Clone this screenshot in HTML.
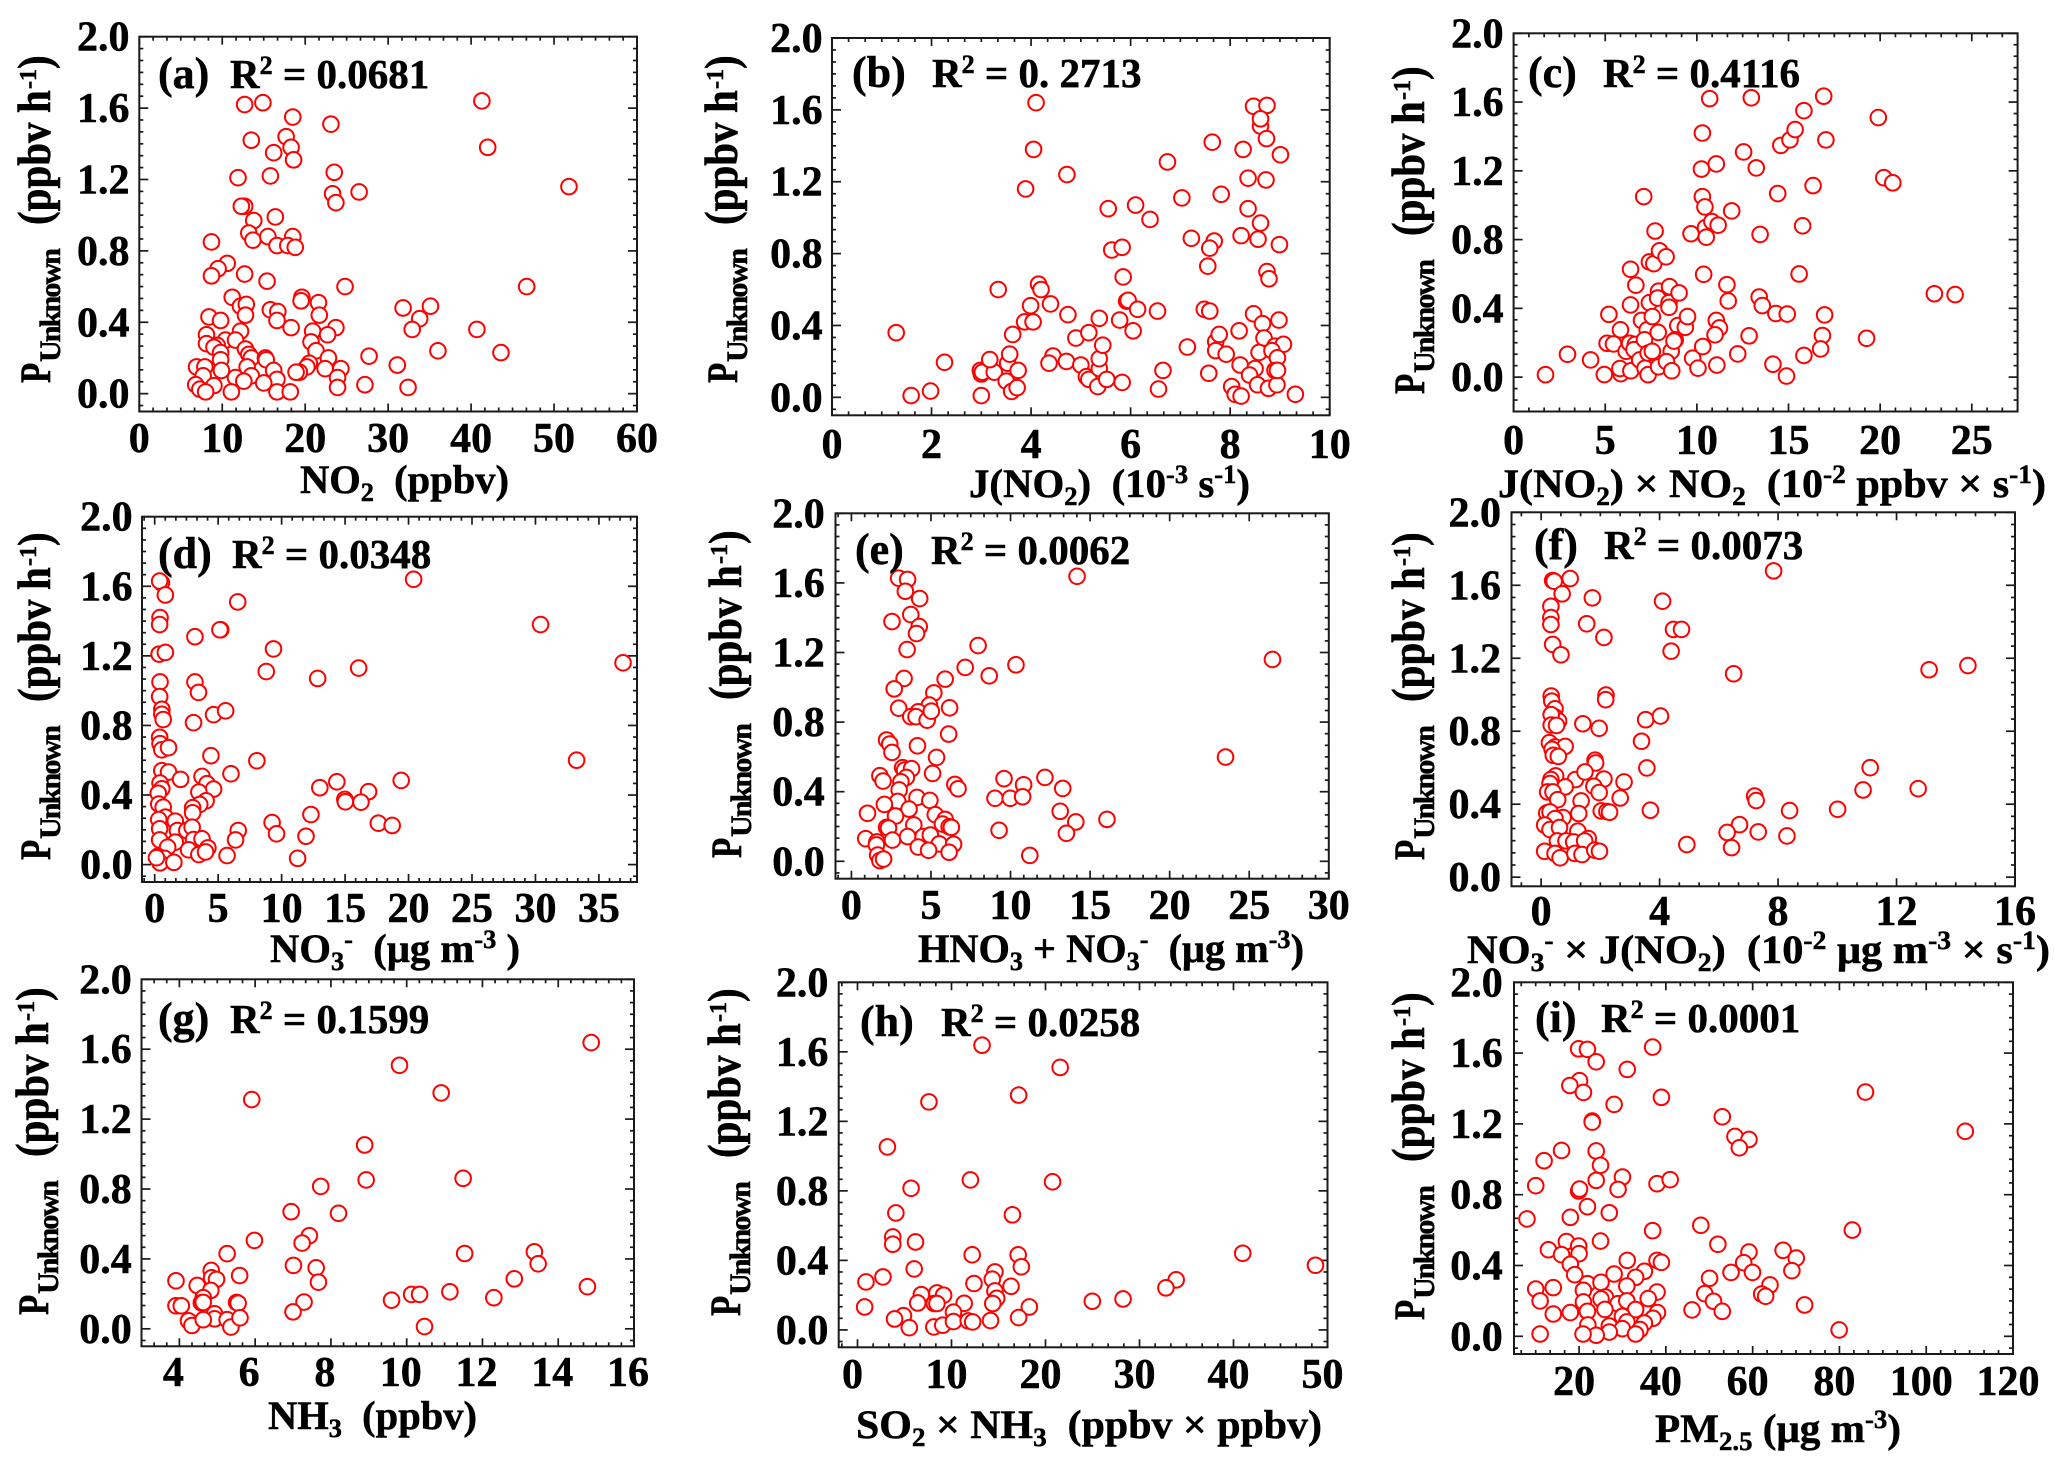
<!DOCTYPE html>
<html lang="en">
<head>
<meta charset="utf-8">
<title>Scatter panels of P-Unknown</title>
<style>
html,body{margin:0;padding:0;background:#fff;}
svg{display:block;}
text{font-family:"Liberation Serif","DejaVu Serif",serif;font-weight:bold;fill:#000;stroke:#000;stroke-width:0.5px;}
</style>
</head>
<body>
<svg id="figure" xmlns="http://www.w3.org/2000/svg" width="2067" height="1470" viewBox="0 0 2067 1470">
<rect width="2067" height="1470" fill="#fff"/>
<g id="plots"></g>

<g>
<text x="158" y="88" font-size="44">(a)</text>
<text x="230" y="88" font-size="41">R<tspan dy="-14" font-size="26">2</tspan><tspan dy="14"> = 0.0681</tspan></text>
<text x="300" y="493" font-size="40" textLength="209" lengthAdjust="spacingAndGlyphs">NO<tspan dy="8" font-size="26">2</tspan><tspan dy="-8">&#160;&#160;(ppbv)</tspan></text>
</g>
<g>
<text x="852" y="87" font-size="44">(b)</text>
<text x="932" y="87" font-size="41">R<tspan dy="-14" font-size="26">2</tspan><tspan dy="14"> = 0. 2713</tspan></text>
<text x="969" y="497" font-size="40" textLength="281" lengthAdjust="spacingAndGlyphs">J(NO<tspan dy="8" font-size="26">2</tspan><tspan dy="-8">)&#160;&#160;(10</tspan><tspan dy="-14" font-size="26">-3</tspan><tspan dy="14"> s</tspan><tspan dy="-14" font-size="26">-1</tspan><tspan dy="14">)</tspan></text>
</g>
<g>
<text x="1528" y="87" font-size="44">(c)</text>
<text x="1603" y="87" font-size="41">R<tspan dy="-14" font-size="26">2</tspan><tspan dy="14"> = 0.4116</tspan></text>
<text x="1498" y="497" font-size="40" textLength="548" lengthAdjust="spacingAndGlyphs">J(NO<tspan dy="8" font-size="26">2</tspan><tspan dy="-8">) × NO</tspan><tspan dy="8" font-size="26">2</tspan><tspan dy="-8">&#160;&#160;(10</tspan><tspan dy="-14" font-size="26">-2</tspan><tspan dy="14"> ppbv × s</tspan><tspan dy="-14" font-size="26">-1</tspan><tspan dy="14">)</tspan></text>
</g>
<g>
<text x="158" y="568" font-size="44">(d)</text>
<text x="232" y="568" font-size="41">R<tspan dy="-14" font-size="26">2</tspan><tspan dy="14"> = 0.0348</tspan></text>
<text x="270" y="962" font-size="40" textLength="250" lengthAdjust="spacingAndGlyphs">NO<tspan dy="8" font-size="26">3</tspan><tspan dy="-22" font-size="26">-</tspan><tspan dy="14">&#160;&#160;(μg m</tspan><tspan dy="-14" font-size="26">-3</tspan><tspan dy="14"> )</tspan></text>
</g>
<g>
<text x="855" y="564" font-size="44">(e)</text>
<text x="931" y="564" font-size="41">R<tspan dy="-14" font-size="26">2</tspan><tspan dy="14"> = 0.0062</tspan></text>
<text x="918" y="962" font-size="40" textLength="386" lengthAdjust="spacingAndGlyphs">HNO<tspan dy="8" font-size="26">3</tspan><tspan dy="-8"> + NO</tspan><tspan dy="8" font-size="26">3</tspan><tspan dy="-22" font-size="26">-</tspan><tspan dy="14">&#160;&#160;(μg m</tspan><tspan dy="-14" font-size="26">-3</tspan><tspan dy="14">)</tspan></text>
</g>
<g>
<text x="1534" y="559" font-size="44">(f)</text>
<text x="1604" y="559" font-size="41">R<tspan dy="-14" font-size="26">2</tspan><tspan dy="14"> = 0.0073</tspan></text>
<text x="1467" y="963" font-size="40" textLength="583" lengthAdjust="spacingAndGlyphs">NO<tspan dy="8" font-size="26">3</tspan><tspan dy="-22" font-size="26">-</tspan><tspan dy="14"> × J(NO</tspan><tspan dy="8" font-size="26">2</tspan><tspan dy="-8">)&#160;&#160;(10</tspan><tspan dy="-14" font-size="26">-2</tspan><tspan dy="14"> μg m</tspan><tspan dy="-14" font-size="26">-3</tspan><tspan dy="14"> × s</tspan><tspan dy="-14" font-size="26">-1</tspan><tspan dy="14">)</tspan></text>
</g>
<g>
<text x="158" y="1033" font-size="44">(g)</text>
<text x="230" y="1033" font-size="41">R<tspan dy="-14" font-size="26">2</tspan><tspan dy="14"> = 0.1599</tspan></text>
<text x="268" y="1429" font-size="40" textLength="209" lengthAdjust="spacingAndGlyphs">NH<tspan dy="8" font-size="26">3</tspan><tspan dy="-8">&#160;&#160;(ppbv)</tspan></text>
</g>
<g>
<text x="860" y="1036" font-size="44">(h)</text>
<text x="941" y="1036" font-size="41">R<tspan dy="-14" font-size="26">2</tspan><tspan dy="14"> = 0.0258</tspan></text>
<text x="856" y="1438" font-size="40" textLength="466" lengthAdjust="spacingAndGlyphs">SO<tspan dy="8" font-size="26">2</tspan><tspan dy="-8"> × NH</tspan><tspan dy="8" font-size="26">3</tspan><tspan dy="-8">&#160;&#160;(ppbv × ppbv)</tspan></text>
</g>
<g>
<text x="1535" y="1032" font-size="44">(i)</text>
<text x="1601" y="1032" font-size="41">R<tspan dy="-14" font-size="26">2</tspan><tspan dy="14"> = 0.0001</tspan></text>
<text x="1655" y="1442" font-size="40" textLength="246" lengthAdjust="spacingAndGlyphs">PM<tspan dy="8" font-size="26">2.5</tspan><tspan dy="-8"> (μg m</tspan><tspan dy="-14" font-size="26">-3</tspan><tspan dy="14">)</tspan></text>
</g>

<g transform="translate(50,383) rotate(-90)"><text transform="scale(0.77,1)" font-size="43">P</text><text x="21" y="10" font-size="30" textLength="114">Unknown</text><text transform="translate(158,0) scale(1,1.13)" font-size="41">(ppbv</text><text transform="translate(270,0) scale(1,1.13)" font-size="41">h</text><text transform="translate(294,-14)" font-size="24">-1</text><text transform="translate(314,0) scale(1,1.13)" font-size="41">)</text></g>
<g transform="translate(737,383) rotate(-90)"><text transform="scale(0.77,1)" font-size="43">P</text><text x="21" y="10" font-size="30" textLength="114">Unknown</text><text transform="translate(158,0) scale(1,1.13)" font-size="41">(ppbv</text><text transform="translate(270,0) scale(1,1.13)" font-size="41">h</text><text transform="translate(294,-14)" font-size="24">-1</text><text transform="translate(314,0) scale(1,1.13)" font-size="41">)</text></g>
<g transform="translate(1424,394) rotate(-90)"><text transform="scale(0.77,1)" font-size="43">P</text><text x="21" y="10" font-size="30" textLength="114">Unknown</text><text transform="translate(158,0) scale(1,1.13)" font-size="41">(ppbv</text><text transform="translate(270,0) scale(1,1.13)" font-size="41">h</text><text transform="translate(294,-14)" font-size="24">-1</text><text transform="translate(314,0) scale(1,1.13)" font-size="41">)</text></g>
<g transform="translate(50,860) rotate(-90)"><text transform="scale(0.77,1)" font-size="43">P</text><text x="21" y="10" font-size="30" textLength="114">Unknown</text><text transform="translate(158,0) scale(1,1.13)" font-size="41">(ppbv</text><text transform="translate(270,0) scale(1,1.13)" font-size="41">h</text><text transform="translate(294,-14)" font-size="24">-1</text><text transform="translate(314,0) scale(1,1.13)" font-size="41">)</text></g>
<g transform="translate(741,858) rotate(-90)"><text transform="scale(0.77,1)" font-size="43">P</text><text x="21" y="10" font-size="30" textLength="114">Unknown</text><text transform="translate(158,0) scale(1,1.13)" font-size="41">(ppbv</text><text transform="translate(270,0) scale(1,1.13)" font-size="41">h</text><text transform="translate(294,-14)" font-size="24">-1</text><text transform="translate(314,0) scale(1,1.13)" font-size="41">)</text></g>
<g transform="translate(1424,860) rotate(-90)"><text transform="scale(0.77,1)" font-size="43">P</text><text x="21" y="10" font-size="30" textLength="114">Unknown</text><text transform="translate(158,0) scale(1,1.13)" font-size="41">(ppbv</text><text transform="translate(270,0) scale(1,1.13)" font-size="41">h</text><text transform="translate(294,-14)" font-size="24">-1</text><text transform="translate(314,0) scale(1,1.13)" font-size="41">)</text></g>
<g transform="translate(48,1315) rotate(-90)"><text transform="scale(0.77,1)" font-size="43">P</text><text x="21" y="10" font-size="30" textLength="114">Unknown</text><text transform="translate(158,0) scale(1,1.13)" font-size="41">(ppbv</text><text transform="translate(270,0) scale(1,1.13)" font-size="41">h</text><text transform="translate(294,-14)" font-size="24">-1</text><text transform="translate(314,0) scale(1,1.13)" font-size="41">)</text></g>
<g transform="translate(740,1316) rotate(-90)"><text transform="scale(0.77,1)" font-size="43">P</text><text x="21" y="10" font-size="30" textLength="114">Unknown</text><text transform="translate(158,0) scale(1,1.13)" font-size="41">(ppbv</text><text transform="translate(270,0) scale(1,1.13)" font-size="41">h</text><text transform="translate(294,-14)" font-size="24">-1</text><text transform="translate(314,0) scale(1,1.13)" font-size="41">)</text></g>
<g transform="translate(1424,1320) rotate(-90)"><text transform="scale(0.77,1)" font-size="43">P</text><text x="21" y="10" font-size="30" textLength="114">Unknown</text><text transform="translate(158,0) scale(1,1.13)" font-size="41">(ppbv</text><text transform="translate(270,0) scale(1,1.13)" font-size="41">h</text><text transform="translate(294,-14)" font-size="24">-1</text><text transform="translate(314,0) scale(1,1.13)" font-size="41">)</text></g>
</svg>

<script>
const yTickLabels = ['0.0','0.4','0.8','1.2','1.6','2.0'];

const panelAXTicks = ['0','10','20','30','40','50','60'];
const panelAX = [12.7,14.9,41.3,18.5,23.1,13.5,17.7,18.3,16.2,18.6,42.0,23.5,15.8,11.9,51.8,26.5,23.3,23.7,12.7,12.3,16.4,13.8,13.2,13.7,15.5,18.5,16.6,17.9,18.8,8.7,10.6,9.5,8.7,12.7,15.4,24.8,46.7,11.2,12.2,12.9,19.6,19.5,21.6,21.7,15.8,16.7,16.6,12.8,8.4,9.8,31.8,35.1,33.8,32.9,40.7,18.3,23.7,20.9,22.7,12.2,8.1,10.4,11.6,8.1,9.4,9.0,20.7,21.3,12.8,36.0,43.6,27.7,9.8,13.2,13.5,15.2,15.3,22.8,9.8,20.5,20.2,6.9,7.9,13,22.4,24.3,31.1,16.2,9.9,19.3,18.9,7.7,23.9,13.5,11.6,16.6,15,12.6,6.8,9,27.2,32.4,23.9,7.3,8,11.1,16.6,18.2];
const panelAY = [1.62,1.63,1.64,1.55,1.51,1.42,1.44,1.38,1.35,1.31,1.38,1.24,1.22,1.21,1.16,1.13,1.12,1.07,1.05,1.05,0.99,0.97,0.90,0.86,0.88,0.88,0.83,0.83,0.82,0.85,0.73,0.70,0.66,0.67,0.63,0.60,0.60,0.54,0.49,0.50,0.54,0.52,0.51,0.44,0.47,0.46,0.41,0.44,0.43,0.41,0.48,0.49,0.42,0.36,0.36,0.37,0.37,0.35,0.33,0.35,0.33,0.30,0.30,0.28,0.27,0.26,0.29,0.24,0.25,0.24,0.23,0.21,0.23,0.22,0.20,0.20,0.19,0.20,0.19,0.17,0.15,0.15,0.15,0.15,0.14,0.14,0.16,0.13,0.13,0.12,0.12,0.10,0.09,0.10,0.09,0.08,0.06,0.07,0.05,0.045,0.05,0.035,0.035,0.025,0.01,0.01,0.01,0.01];

const panelBXTicks = ['0','2','4','6','8','10'];
const panelBX = [1.29,1.59,1.98,2.26,3.0,2.98,3.0,3.02,3.26,3.17,3.34,3.5,3.53,3.57,3.74,3.63,3.61,3.72,3.89,4.1,4.05,4.72,3.99,4.15,4.2,3.87,4.04,4.39,4.44,4.36,4.71,4.74,4.9,5.16,5.0,5.11,5.16,5.34,5.37,5.37,5.44,5.37,5.52,5.55,5.62,5.83,5.85,5.92,5.95,6.14,5.78,6.05,5.83,6.1,6.39,6.54,6.74,6.65,6.56,7.03,7.22,7.14,7.48,7.59,7.68,7.59,7.55,7.64,7.82,7.71,7.71,7.78,7.92,7.57,8.26,8.36,8.36,8.22,8.18,8.2,8.03,8.1,8.22,8.47,8.74,8.61,8.61,8.73,9.01,8.72,8.61,8.56,8.99,8.74,8.78,8.47,8.65,8.98,8.68,8.9,9.07,8.58,8.84,8.95,8.5,8.39,8.55,8.77,8.94,8.9,8.95,9.31];
const panelBY = [0.36,0.01,0.035,0.195,0.01,0.15,0.13,0.14,0.14,0.21,0.60,0.09,0.19,0.24,0.15,0.35,0.033,0.054,1.16,1.64,1.38,1.24,0.51,0.63,0.60,0.42,0.42,0.52,0.23,0.19,0.20,0.46,0.33,0.36,0.18,0.115,0.10,0.06,0.16,0.215,0.29,0.44,0.10,1.05,0.82,0.835,0.67,0.535,0.54,0.49,0.43,0.37,0.083,1.07,0.99,0.48,1.31,0.15,0.046,1.11,0.885,0.28,0.49,0.48,0.87,0.83,0.73,1.42,1.13,0.31,0.26,0.35,0.24,0.134,1.38,1.22,1.05,0.90,0.37,0.18,0.06,0.017,0.007,1.62,1.625,1.51,1.55,1.44,1.35,1.21,0.97,0.88,0.85,0.70,0.66,0.465,0.41,0.43,0.33,0.285,0.295,0.25,0.26,0.22,0.16,0.124,0.07,0.05,0.07,0.15,0.15,0.017];

const panelCXTicks = ['0','5','10','15','20','25'];
const panelCX = [1.74,2.94,4.2,4.95,5.1,5.45,5.2,5.83,5.85,5.8,6.14,6.38,6.38,6.67,6.4,6.33,6.64,6.57,6.98,7.29,7.14,6.88,7.17,7.34,7.34,7.57,7.1,7.41,7.65,7.72,7.96,8.32,7.41,7.57,7.91,7.86,7.89,7.91,8.48,8.48,8.51,9.03,8.96,9.37,9.49,8.6,8.34,8.63,8.82,8.75,9.68,9.77,10.06,10.3,10.25,10.3,10.44,10.47,10.51,10.82,11.16,10.37,10.32,10.7,11.06,11.64,11.71,11.06,11.23,10.99,11.09,11.9,12.23,12.55,12.85,12.97,13.24,13.45,13.4,13.57,14.15,14.31,14.93,14.41,14.58,15.08,15.36,15.84,15.77,15.58,14.89,15.84,16.34,16.92,17.04,16.97,16.85,16.75,19.9,20.2,20.69,19.26,22.96,24.09];
const panelCY = [0.014,0.133,0.10,0.015,0.197,0.193,0.365,0.275,0.02,0.05,0.15,0.42,0.627,0.535,0.037,0.197,0.19,0.16,0.33,0.275,0.217,0.10,0.052,0.014,0.14,0.15,1.05,0.67,0.66,0.85,0.735,0.70,0.433,0.352,0.50,0.46,0.26,0.06,0.433,0.406,0.526,0.49,0.30,0.29,0.352,0.15,0.09,0.037,0.217,0.21,0.834,0.11,0.052,1.42,1.21,1.05,0.99,0.87,0.814,0.905,0.884,0.598,0.178,1.62,1.24,0.538,0.443,0.33,0.286,0.246,0.07,0.967,0.135,1.31,0.24,1.625,1.217,0.83,0.466,0.416,0.075,0.37,0.367,1.068,1.348,1.38,1.44,1.55,0.88,0.6,0.006,0.126,1.114,1.634,1.38,0.362,0.242,0.164,1.51,1.16,1.13,0.226,0.485,0.48];

const panelDXTicks = ['0','5','10','15','20','25','30','35'];
const panelDX = [0.53,0.39,0.84,6.54,20.4,0.42,0.39,30.4,3.17,5.2,5.14,9.36,0.35,0.84,36.9,8.79,16.07,12.84,3.17,3.45,0.42,0.39,0.56,0.56,0.67,4.64,5.59,3.06,0.39,0.42,0.56,1.09,4.43,8.05,33.24,0.56,1.09,2.04,0.42,0.56,0.28,0.32,0.67,3.73,4.12,4.64,3.48,6.01,4.05,3.55,2.99,2.99,13.01,14.35,19.42,16.85,14.98,15.02,16.25,12.31,17.62,18.71,9.25,9.6,11.92,11.26,6.58,6.37,5.7,0.84,0.32,0.39,0.39,1.62,1.79,1.62,2.53,2.95,3.06,3.73,4.19,2.67,3.48,4.01,1.02,0.25,0.77,0.42,1.51,0.14];
const panelDY = [1.62,1.63,1.55,1.51,1.64,1.42,1.38,1.38,1.31,1.35,1.35,1.24,1.21,1.22,1.16,1.11,1.13,1.07,1.05,0.99,1.05,0.966,0.893,0.864,0.834,0.862,0.884,0.816,0.732,0.695,0.66,0.672,0.626,0.597,0.6,0.54,0.532,0.49,0.469,0.436,0.41,0.348,0.33,0.507,0.465,0.434,0.417,0.522,0.367,0.346,0.327,0.298,0.442,0.476,0.484,0.419,0.375,0.361,0.359,0.288,0.238,0.225,0.242,0.177,0.163,0.036,0.196,0.142,0.052,0.273,0.259,0.206,0.142,0.25,0.196,0.129,0.196,0.215,0.144,0.148,0.096,0.085,0.058,0.073,0.1,0.048,0.036,0.01,0.013,0.04];

const panelEXTicks = ['0','5','10','15','20','25','30'];
const panelEX = [2.97,3.53,3.39,4.29,14.18,3.73,2.55,4.26,4.09,3.5,7.96,7.15,8.66,10.34,26.46,3.31,2.69,5.89,5.18,4.9,6.17,2.97,4.2,3.73,4.06,4.76,5.02,6.11,2.21,2.41,2.55,4.15,5.35,23.51,3.22,3.34,3.78,5.1,1.79,1.99,3.45,3.11,3.0,6.5,6.7,9.59,10.82,12.16,13.28,9.02,9.98,10.76,2.91,4.12,4.93,2.07,3.62,1.01,2.77,5.27,5.89,13.12,14.1,16.06,5.72,6.14,6.28,3.92,2.21,2.33,9.28,13.51,0.9,1.6,1.57,2.58,3.53,4.51,4.96,5.52,6.42,4.2,4.85,6.14,11.21,1.65,1.79,2.02];
const panelEY = [1.627,1.62,1.552,1.51,1.638,1.418,1.378,1.349,1.309,1.217,1.24,1.114,1.066,1.129,1.16,1.051,0.991,1.047,0.968,0.898,0.882,0.88,0.859,0.831,0.831,0.811,0.863,0.731,0.697,0.674,0.626,0.664,0.597,0.599,0.538,0.524,0.532,0.505,0.492,0.461,0.482,0.457,0.41,0.442,0.417,0.475,0.44,0.482,0.419,0.362,0.362,0.371,0.344,0.367,0.35,0.327,0.3,0.276,0.26,0.268,0.241,0.287,0.226,0.241,0.214,0.199,0.195,0.209,0.195,0.191,0.178,0.161,0.13,0.111,0.094,0.122,0.142,0.142,0.151,0.1,0.098,0.082,0.063,0.052,0.034,0.036,0.004,0.013];

const panelFXTicks = ['0','4','8','12','16'];
const panelFX = [0.39,0.44,0.98,7.85,0.71,1.73,4.1,0.33,0.33,0.33,1.54,2.12,4.47,4.74,4.39,0.39,0.67,6.5,13.1,14.41,0.34,0.36,0.47,2.19,2.18,0.47,0.59,0.34,0.34,0.52,1.41,1.96,3.53,4.03,3.39,0.28,0.47,0.81,0.37,0.41,0.58,1.82,1.84,3.57,11.11,0.49,0.33,1.16,1.48,2.12,2.8,0.3,0.81,1.78,1.96,0.22,0.4,0.56,2.67,1.35,10.87,12.73,7.21,7.26,8.39,10.01,3.69,2.03,2.22,2.31,1.27,0.19,0.3,0.74,0.47,0.12,0.3,0.62,1.24,6.7,6.28,7.33,8.3,1.59,0.55,0.84,1.1,1.47,4.92,6.43,0.12,0.47,0.64,1.14,1.38,1.81,1.97];
const panelFY = [1.626,1.622,1.637,1.679,1.553,1.531,1.513,1.485,1.423,1.385,1.389,1.314,1.358,1.358,1.239,1.276,1.219,1.115,1.137,1.16,0.993,0.965,0.923,0.998,0.973,0.878,0.856,0.891,0.834,0.832,0.841,0.816,0.863,0.883,0.745,0.737,0.714,0.717,0.701,0.668,0.662,0.641,0.626,0.599,0.6,0.555,0.535,0.535,0.577,0.538,0.522,0.513,0.495,0.498,0.464,0.467,0.467,0.425,0.434,0.418,0.478,0.485,0.445,0.42,0.365,0.372,0.367,0.363,0.36,0.356,0.349,0.352,0.358,0.327,0.321,0.286,0.261,0.272,0.252,0.288,0.245,0.248,0.226,0.212,0.199,0.199,0.193,0.199,0.179,0.162,0.142,0.13,0.106,0.13,0.124,0.148,0.142];

const panelGXTicks = ['4','6','8','10','12','14','16'];
const panelGX = [14.87,9.81,10.91,5.91,8.89,8.93,11.49,7.73,6.95,8.2,7.43,7.24,5.98,5.26,11.53,13.37,13.47,7.01,7.61,4.84,4.85,4.98,5.59,3.91,4.47,4.83,7.67,12.84,14.77,11.14,12.3,10.13,10.34,9.6,7.29,7.0,10.47,4.63,3.91,4.05,4.58,4.63,5.51,5.55,4.93,4.93,4.24,4.33,4.63,5.26,5.36,5.6];
const panelGY = [1.638,1.508,1.35,1.312,1.052,0.852,0.861,0.815,0.67,0.661,0.533,0.491,0.506,0.43,0.431,0.441,0.372,0.363,0.349,0.334,0.292,0.283,0.305,0.275,0.248,0.22,0.267,0.286,0.241,0.212,0.178,0.197,0.197,0.164,0.153,0.097,0.013,0.178,0.132,0.132,0.149,0.151,0.151,0.147,0.086,0.057,0.046,0.019,0.052,0.052,0.01,0.063];

const panelHXTicks = ['0','10','20','30','40','50'];
const panelHX = [13.25,21.56,17.14,7.6,3.18,20.75,12.01,5.7,4.08,16.48,3.75,3.75,6.17,12.2,17.09,17.43,6.03,14.62,14.34,2.71,0.9,12.39,16.33,14.62,14.81,40.98,48.72,33.9,32.81,28.25,24.98,6.79,8.45,9.16,6.41,8.17,8.45,11.35,14.39,0.76,18.28,10.21,4.89,3.94,5.51,8.12,9.07,10.21,11.78,12.25,14.15,17.14];
const panelHY = [1.638,1.51,1.351,1.312,1.053,0.852,0.863,0.815,0.673,0.662,0.535,0.493,0.506,0.432,0.432,0.363,0.351,0.334,0.292,0.305,0.276,0.267,0.251,0.224,0.182,0.441,0.372,0.288,0.242,0.178,0.165,0.203,0.213,0.2,0.155,0.152,0.152,0.153,0.152,0.132,0.132,0.102,0.082,0.063,0.013,0.017,0.027,0.048,0.052,0.046,0.054,0.071];

const panelIXTicks = ['20','40','60','80','100','120'];
const panelIX = [36.95,19.9,21.92,23.94,31.1,20.1,17.88,21.0,38.97,28.07,86,53,23.03,23.03,109,55.92,59.15,56.93,23.94,15.96,11.93,24.94,29.99,23.94,37.96,40.99,10.01,19.9,20.1,28.98,21.92,26.96,17.98,7.99,48.05,36.95,82.97,24.94,17.07,19.9,12.94,15.96,20,51.99,67.02,59.15,70.05,57.94,31.1,37.96,38.97,17.98,18.99,35.04,28.07,33.02,55.02,59.96,69.04,50.07,21.92,25.05,64,31,10,14.05,21,37.96,48.96,62.08,62.99,26.05,25.05,35.94,11.02,21,28.98,31,50.98,71.97,14.05,17.98,21.92,25.95,33.02,38.06,46.03,53,29.99,37.05,22.02,26.96,31,35.04,29.99,34.03,33.02,26.96,23.94,20.91,11.02,79.94];
const panelIY = [1.634,1.624,1.621,1.551,1.508,1.444,1.417,1.378,1.35,1.31,1.38,1.24,1.216,1.21,1.158,1.129,1.112,1.065,1.047,1.05,0.992,0.966,0.9,0.881,0.862,0.885,0.851,0.821,0.832,0.83,0.732,0.698,0.672,0.663,0.627,0.597,0.6,0.538,0.535,0.51,0.489,0.461,0.467,0.52,0.486,0.476,0.442,0.416,0.429,0.429,0.418,0.407,0.348,0.367,0.352,0.333,0.361,0.361,0.371,0.328,0.297,0.305,0.29,0.284,0.267,0.275,0.26,0.25,0.241,0.239,0.226,0.222,0.211,0.213,0.2,0.194,0.184,0.2,0.198,0.177,0.126,0.134,0.141,0.152,0.151,0.134,0.149,0.141,0.113,0.102,0.064,0.058,0.081,0.075,0.043,0.038,0.013,0.024,0.006,0.013,0.013,0.036];

const SVG_NS = 'http://www.w3.org/2000/svg';
const plots = document.getElementById('plots');

function make(tag, parent, attrs) {
  const el = document.createElementNS(SVG_NS, tag);
  for (const k in attrs) el.setAttribute(k, attrs[k]);
  parent.appendChild(el);
  return el;
}

function linearScale(d0, d1, r0, r1) {
  return v => r0 + (v - d0) / (d1 - d0) * (r1 - r0);
}

function drawPanel(id, xs, ys, xTickLabels, box) {
  const g = make('g', plots, {});
  
  

  const x = linearScale(box.xMin, box.xMax, box.left, box.right);
  const y = linearScale(box.yMin, 2.0, box.bottom, box.top);
  const ink = '#1a1a1a';

  const frame = make('rect', g, {x: box.left, y: box.top, width: box.right - box.left, height: box.bottom - box.top, fill: '#fff', stroke: ink, 'stroke-width': 2});
  
  

  const xMajors = xTickLabels.map(Number);
  const xStep = xMajors[1] - xMajors[0];
  const xFine = xStep / 6;
  const xStart = xMajors[0] - Math.floor((xMajors[0] - box.xMin) / xFine + 1e-6) * xFine;
  for (let i = 0; xStart + i * xFine <= box.xMax + 1e-6; i++) {
    const v = xStart + i * xFine;
    const major = xMajors.some(m => Math.abs(m - v) < 1e-6);
    const len = major ? 8 : 4;
    const px = x(v);
    const bottomTick = make('line', g, {x1: px, x2: px, y1: box.bottom, y2: box.bottom - len, stroke: ink, 'stroke-width': 1.7});
    
    
    const topTick = make('line', g, {x1: px, x2: px, y1: box.top, y2: box.top + len, stroke: ink, 'stroke-width': 1.7});
    
    
  }

  const yMajors = yTickLabels.map(Number);
  const yFine = 0.4 / 6;
  for (let i = Math.ceil(box.yMin / yFine - 1e-6); i * yFine <= 2.0 + 1e-6; i++) {
    const v = i * yFine;
    const major = yMajors.some(m => Math.abs(m - v) < 1e-6);
    const len = major ? 9 : 4;
    const py = y(v);
    const leftTick = make('line', g, {x1: box.left, x2: box.left + len, y1: py, y2: py, stroke: ink, 'stroke-width': 1.7});
    
    
    const rightTick = make('line', g, {x1: box.right, x2: box.right - len, y1: py, y2: py, stroke: ink, 'stroke-width': 1.7});
    
    
  }

  xTickLabels.forEach(label => {
    const t = make('text', g, {x: x(Number(label)) + box.xLabelShift, y: box.xLabelBase, 'text-anchor': 'middle', 'font-size': 42});
    
    
    t.textContent = label;
  });

  yTickLabels.forEach(label => {
    const t = make('text', g, {x: box.yLabelRight, y: y(Number(label)) + 14, 'text-anchor': 'end', 'font-size': 42});
    
    
    t.textContent = label;
  });

  xs.forEach((xv, i) => {
    const c = make('circle', g, {cx: x(xv), cy: y(ys[i]), r: 7.8, fill: '#fff', stroke: '#f00', 'stroke-width': 2});
    
    
  });
}

drawPanel('a', panelAX, panelAY, panelAXTicks, {left:139.3, right:637, top:36.7, bottom:411.5, xMin:0, xMax:60, yMin:-0.1, xLabelShift:0, xLabelBase:452, yLabelRight:129.5});
drawPanel('b', panelBX, panelBY, panelBXTicks, {left:832, right:1329.7, top:38, bottom:415.3, xMin:0, xMax:10, yMin:-0.1, xLabelShift:0, xLabelBase:458, yLabelRight:822.6});
drawPanel('c', panelCX, panelCY, panelCXTicks, {left:1513.6, right:2017.6, top:33.3, bottom:411.5, xMin:0, xMax:27.5, yMin:-0.2, xLabelShift:0, xLabelBase:454, yLabelRight:1503.6});
drawPanel('d', panelDX, panelDY, panelDXTicks, {left:142, right:637, top:516.7, bottom:882, xMin:-1, xMax:38, yMin:-0.1, xLabelShift:0, xLabelBase:922, yLabelRight:132.6});
drawPanel('e', panelEX, panelEY, panelEXTicks, {left:835.5, right:1328.8, top:513.3, bottom:878.7, xMin:-1, xMax:30, yMin:-0.1, xLabelShift:0, xLabelBase:919, yLabelRight:824.8});
drawPanel('f', panelFX, panelFY, panelFXTicks, {left:1511.5, right:2015, top:512.3, bottom:886.3, xMin:-1, xMax:16, yMin:-0.05, xLabelShift:0, xLabelBase:925, yLabelRight:1501});
drawPanel('g', panelGX, panelGY, panelGXTicks, {left:141.5, right:634, top:979.3, bottom:1346.3, xMin:3, xMax:16, yMin:-0.1, xLabelShift:-6, xLabelBase:1386, yLabelRight:131.7});
drawPanel('h', panelHX, panelHY, panelHXTicks, {left:838.7, right:1327.5, top:982.3, bottom:1347.3, xMin:-2, xMax:50, yMin:-0.1, xLabelShift:-5, xLabelBase:1388, yLabelRight:828.4});
drawPanel('i', panelIX, panelIY, panelIXTicks, {left:1514, right:2013, top:982.3, bottom:1354, xMin:5, xMax:120, yMin:-0.1, xLabelShift:-5, xLabelBase:1395, yLabelRight:1502.7});
</script>
</body>
</html>
